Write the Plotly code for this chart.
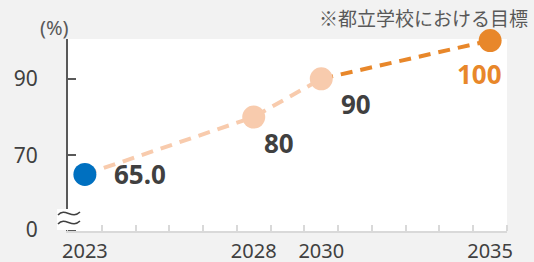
import plotly.graph_objects as go

years = [2023, 2028, 2030, 2035]
values = [65.0, 80, 90, 100]
labels = ["65.0", "80", "90", "100"]
point_colors = ["#0070C0", "#F8CBAD", "#F8CBAD", "#E8872A"]
label_colors = ["#404040", "#404040", "#404040", "#E8872A"]
label_shift = [(55, 0), (25, -26), (35, -25), (-11, -33)]

y_tickvals = [50.5, 70, 90]
y_ticktext = ["0", "70", "90"]
x_tickvals = [2023, 2028, 2030, 2035]
x_ticktext = ["2023", "2028", "2030", "2035"]

W, H = 534, 262
L, R, T, B = 68, 27, 39, 31
PW, PH = W - L - R, H - T - B

def px(x):
    return (x - L) / PW

def py(y):
    return (H - B - y) / PH

fig = go.Figure()

fig.add_trace(go.Scatter(x=years[:3], y=values[:3], mode="lines",
                         line=dict(color="#F8CBAD", width=4, dash="12px,8px"),
                         hoverinfo="skip", cliponaxis=False))
fig.add_trace(go.Scatter(x=years[2:], y=values[2:], mode="lines",
                         line=dict(color="#E8872A", width=4, dash="12px,8px"),
                         hoverinfo="skip", cliponaxis=False))
fig.add_trace(go.Scatter(x=years, y=values, mode="markers",
                         marker=dict(size=23, color=point_colors, line=dict(width=0)),
                         cliponaxis=False))

for xv, yv, t, c, (dx, dy) in zip(years, values, labels, label_colors, label_shift):
    fig.add_annotation(x=xv, y=yv, text=f"<b>{t}</b>", showarrow=False,
                       xshift=dx, yshift=dy, xanchor="center", yanchor="middle",
                       font=dict(family="Noto Sans", size=26, color=c))

# axis break
fig.add_shape(type="rect", xref="paper", yref="paper", layer="above",
              x0=px(57), x1=px(80), y0=py(230), y1=py(209),
              fillcolor="white", line=dict(width=0))
for y0 in (213, 222):
    path = (f"M {px(58)},{py(y0+2)} C {px(65)},{py(y0-6)} {px(72)},{py(y0+7)} {px(80)},{py(y0-1)}")
    fig.add_shape(type="path", xref="paper", yref="paper", layer="above",
                  path=path, line=dict(color="#404040", width=1.5))

fig.add_annotation(xref="paper", yref="paper", x=px(54), y=py(27), text="(%)",
                   xanchor="center", yanchor="middle",
                   showarrow=False, font=dict(family="Noto Sans", size=20, color="#595959"))
fig.add_annotation(xref="paper", yref="paper", x=px(530), y=py(17), xanchor="right",
                   yanchor="middle", text="※都立学校における目標", showarrow=False,
                   font=dict(family="Noto Sans CJK JP", size=19, color="#595959"))

fig.update_layout(
    width=W, height=H, margin=dict(l=L, r=R, t=T, b=B, autoexpand=False),
    paper_bgcolor="#F2F2F2", plot_bgcolor="white", showlegend=False,
    xaxis=dict(range=[2022.5, 2035.5], tickmode="array", tickvals=x_tickvals,
               ticktext=x_ticktext, ticks="", showgrid=False, zeroline=False,
               showline=True, linecolor="#D9D9D9", linewidth=2, automargin=False,
               tickfont=dict(family="Noto Sans", size=20, color="#404040"),
               ticklabelstandoff=1,
               minor=dict(tickmode="array", tickvals=[2022.5 + i for i in range(14)],
                          ticks="inside", ticklen=6, tickwidth=2, tickcolor="#D9D9D9",
                          showgrid=False)),
    yaxis=dict(range=[50.2, 100.4], tickmode="array", tickvals=y_tickvals,
               ticktext=y_ticktext, ticks="inside", ticklen=8, tickwidth=2,
               tickcolor="#595959", showgrid=False, zeroline=False, automargin=False,
               showline=True, linecolor="#595959", linewidth=2,
               tickfont=dict(family="Noto Sans", size=21, color="#404040"),
               ticklabelstandoff=24),
)

fig.write_html("out.html", config={"displayModeBar": False},
               post_script="document.body.style.margin='0';document.body.style.padding='0';")
